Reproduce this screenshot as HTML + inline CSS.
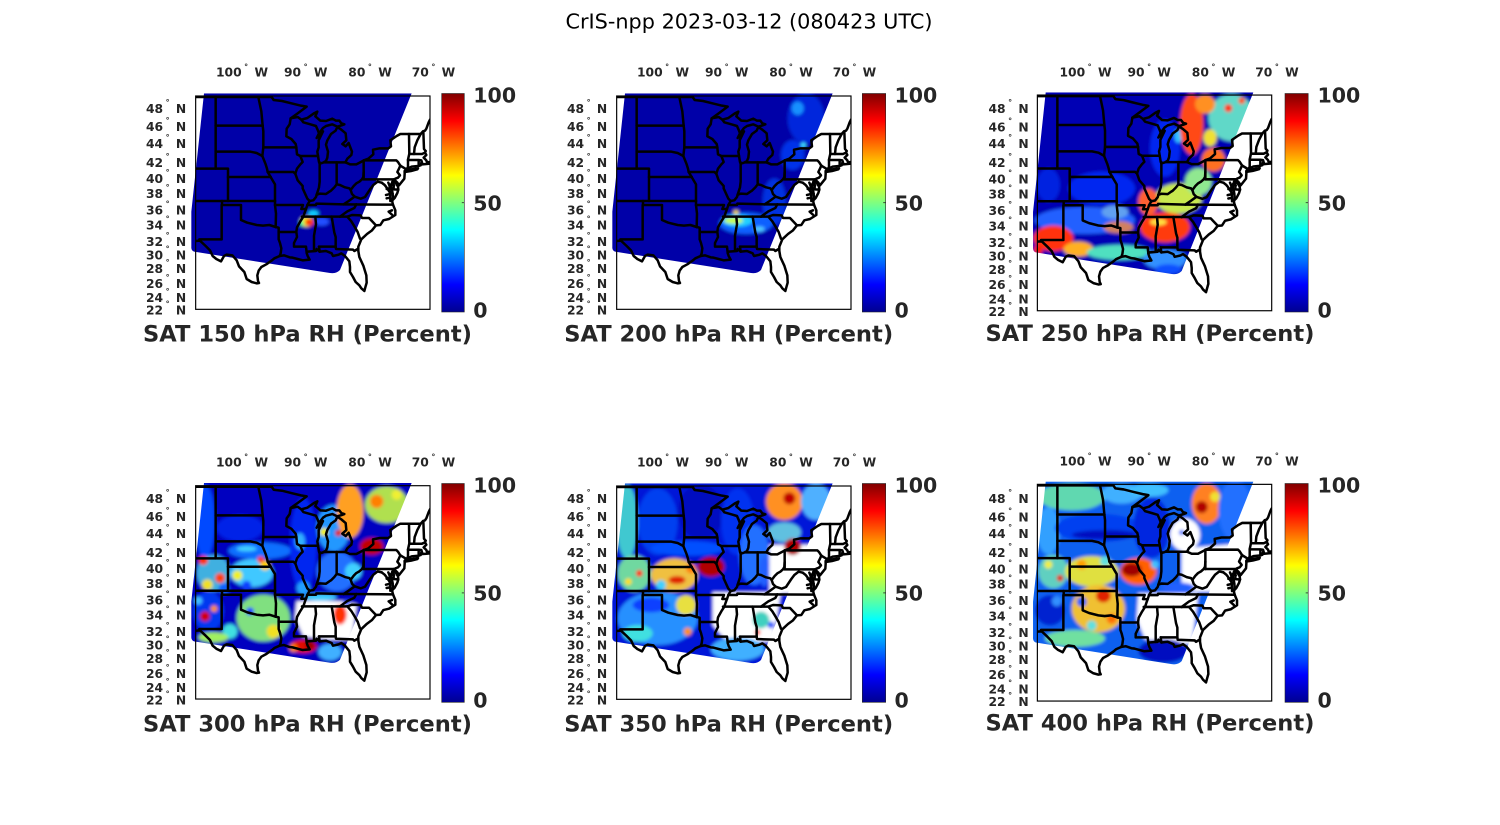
<!DOCTYPE html>
<html><head><meta charset="utf-8"><style>
html,body{margin:0;padding:0;background:#fff;width:1500px;height:825px;overflow:hidden}
.lt{font:bold 12.3px "DejaVu Sans","Liberation Sans",sans-serif;fill:#262626}
.cb{font:bold 20.5px "DejaVu Sans","Liberation Sans",sans-serif;fill:#262626}
.ti{font:bold 22.6px "DejaVu Sans","Liberation Sans",sans-serif;fill:#262626}
.mt{font:20.8px "DejaVu Sans","Liberation Sans",sans-serif;fill:#000}
</style></head><body>
<svg width="1500" height="825" viewBox="0 0 1500 825" xmlns="http://www.w3.org/2000/svg" xmlns:xlink="http://www.w3.org/1999/xlink">
<defs>
<linearGradient id="jet" x1="0" y1="1" x2="0" y2="0">
<stop offset="0" stop-color="#000090"/><stop offset="0.125" stop-color="#0000ff"/><stop offset="0.375" stop-color="#00ffff"/><stop offset="0.625" stop-color="#ffff00"/><stop offset="0.875" stop-color="#ff0000"/><stop offset="1" stop-color="#800000"/>
</linearGradient>
<clipPath id="box"><rect x="197" y="123" width="703" height="640"/></clipPath>
<clipPath id="sw"><path d="M222,115 L845,115 L630,645 Q618,657 600,654 L192,590 Q183,586 184,575 L184,470 Z"/></clipPath>
<filter id="bl" x="-10%" y="-10%" width="120%" height="120%"><feGaussianBlur stdDeviation="5"/></filter>
<g id="lines" fill="none" stroke="#000" stroke-width="7.5" stroke-linejoin="round" stroke-linecap="round">
<path d="M197,126 L425,126 L431,135 L456,138 L484,145 L513,152 L530,155 L503,175 L482,190 L503,186 L514,194 L532,189 L552,175 L562,170 L556,184 L571,197 L588,198 L607,191 L618,197 L628,197 L634,205 L643,208 L635,211 L622,215 L607,208 L588,213 L579,219 L567,235 L560,249 L569,240 L579,229 L566,256 L566,277 L562,290 L564,303 L567,321 L569,326 L579,323 L588,318 L592,308 L594,290 L588,269 L592,256 L603,237 L617,227 L622,216 L634,224 L647,235 L649,256 L637,267 L647,274 L656,264 L666,290 L664,300 L652,311 L646,322 L660,328 L679,328 L702,316 L715,311 L730,298 L729,284 L749,280 L775,280 L783,274 L781,256 L800,243 L811,237 L872,237 L879,229 L885,227 L889,221 L896,202 L900,194"/>
<path d="M880,229 L882,282 L887,288"/>
<path d="M887,288 L885,293 L889,300 L881,308 L889,316 L891,322 L900,321 L900,326 L889,327 L877,328 L874,323 L872,331 L864,333 L845,335 L832,341 L824,348 L824,356 L823,371 L807,391 L802,383 L795,376 L798,385 L804,395 L805,404 L802,414 L794,429 L787,436 L787,441 L789,449 L796,466 L796,480 L777,492 L760,496 L751,510 L738,511 L726,526 L711,537 L694,553 L685,575 L685,588 L688,606 L700,632 L709,661 L710,683 L706,697 L703,708 L694,700 L688,691 L677,681 L669,666 L660,651 L660,636 L658,619 L645,603 L634,595 L626,599 L609,603 L605,595 L588,588 L569,590 L560,582 L558,588 L533,590 L530,594 L533,603 L539,614 L518,616 L503,612 L488,608 L479,607 L462,601 L449,603 L433,610 L426,616 L409,628 L394,636 L386,647 L382,661 L384,678 L387,684 L380,685 L365,681 L350,672 L343,651 L327,634 L320,616 L307,601 L290,599 L282,603 L273,619 L259,612 L248,603 L240,586 L227,573 L210,557 L197,558"/>
<path d="M824,351 L843,348 L862,343 L864,340 L851,342 L832,345 Z"/>
<path d="M775,383 L779,393 L779,407 L781,424 L781,438"/>
<path d="M787,380 L783,395 L787,410 L789,426 L787,436"/>
<path d="M781,414 L788,416 M780,428 L770,430 M786,466 L776,470 L787,480 M779,400 L770,402 M783,388 L792,392 M776,418 L768,420"/>
<path d="M257,126 L257,341"/>
<path d="M197,341 L294,341 L294,438"/>
<path d="M294,366 L422,366"/>
<path d="M257,290 L361,290 L380,294 L397,303"/>
<path d="M257,212 L398,212"/>
<path d="M385,126 L394,169 L398,212"/>
<path d="M398,212 L400,229 L400,277 L397,303"/>
<path d="M397,303 L407,328 L411,341 L413,351 L422,366"/>
<path d="M422,366 L429,378 L435,388 L435,438"/>
<path d="M197,438 L435,438"/>
<path d="M276,438 L276,450 L333,450 L333,495 L352,503 L380,510 L399,512 L418,510 L437,516"/>
<path d="M275,450 L275,553 L208,553"/>
<path d="M437,516 L438,476 L435,450 L435,438"/>
<path d="M437,516 L446,518 L446,553 L450,564 L454,580 L452,595 L449,603"/>
<path d="M446,531 L499,531"/>
<path d="M435,450 L519,450 L514,462 L528,462 L532,450 L539,438"/>
<path d="M400,277 L499,277"/>
<path d="M413,351 L490,351 L496,356"/>
<path d="M482,190 L479,208 L470,221 L469,244 L484,252 L497,267 L499,277"/>
<path d="M499,277 L501,298 L511,303 L518,321 L511,328 L501,341 L496,356"/>
<path d="M511,303 L564,303"/>
<path d="M514,194 L520,202 L541,208 L558,213 L564,227 L567,235"/>
<path d="M496,356 L503,376 L518,393 L518,400 L532,431 L539,438"/>
<path d="M539,438 L550,436 L558,426 L560,419"/>
<path d="M569,322 L569,380 L567,397 L560,419"/>
<path d="M560,419 L569,416 L588,417 L598,410 L603,407 L613,397 L620,388"/>
<path d="M620,388 L620,322"/>
<path d="M583,322 L646,322"/>
<path d="M620,388 L630,390 L645,397 L658,400 L662,405 L671,393 L679,385 L688,380 L696,373 L700,366 L701,351"/>
<path d="M701,316 L701,373"/>
<path d="M701,316 L799,316 L804,321 L811,332"/>
<path d="M701,373 L791,373"/>
<path d="M811,332 L806,343 L802,351 L810,361 L804,368 L796,371"/>
<path d="M811,332 L826,341"/>
<path d="M837,237 L838,296 L834,314 L834,336 L831,341"/>
<path d="M872,237 L862,256 L854,277 L852,297"/>
<path d="M838,297 L876,297 L885,293"/>
<path d="M834,315 L866,315 L866,333 M866,315 L874,316 L877,326"/>
<path d="M532,450 L558,450 L559,446 L641,448 L789,449"/>
<path d="M641,448 L656,438 L674,425 L666,417 L662,405"/>
<path d="M674,425 L692,431 L705,426 L711,417 L721,402 L730,390 L743,380 L755,383"/>
<path d="M755,383 L764,390 L768,395 L781,414"/>
<path d="M791,373 L791,403 L805,404"/>
<path d="M630,485 L652,469 L673,459 L679,448"/>
<path d="M516,485 L630,485"/>
<path d="M528,462 L524,473 L520,485"/>
<path d="M630,485 L652,485 L666,480 L692,481 L696,489 L717,489 L738,511"/>
<path d="M652,485 L664,499 L675,517 L683,531 L690,551"/>
<path d="M605,485 L613,533 L617,546 L617,575"/>
<path d="M567,575 L617,575 L618,582 L669,584 L673,588 L683,582"/>
<path d="M556,485 L558,508 L552,542 L552,588"/>
<path d="M567,575 L569,590"/>
<path d="M520,485 L511,499 L501,517 L499,531 L501,546 L492,564 L492,575 L528,575 L530,593"/>
</g>
</defs>

<text class="mt" x="749" y="28.3" text-anchor="middle">CrIS-npp 2023-03-12 (080423 UTC)</text>

<!-- ===== Panel 1 map ===== -->
<g transform="translate(130,55) scale(0.33333)">
<g clip-path="url(#sw)"><g filter="url(#bl)">
<rect x="150" y="90" width="760" height="600" fill="#0000a8"/>
<ellipse cx="575" cy="500" rx="22" ry="12" fill="#2050ff"/>
<ellipse cx="550" cy="475" rx="16" ry="9" fill="#10d0ff"/>
<ellipse cx="530" cy="500" rx="20" ry="15" fill="#f0f020"/>
<ellipse cx="538" cy="502" rx="13" ry="11" fill="#ff3000"/>
<ellipse cx="515" cy="505" rx="6" ry="8" fill="#40ff90"/>
</g></g>
<g clip-path="url(#box)"><use xlink:href="#lines" href="#lines"/></g>
<rect x="197" y="123" width="703" height="640" fill="none" stroke="#000" stroke-width="3.5"/>
</g>

<!-- ===== Panel 2 map ===== -->
<g transform="translate(551,55) scale(0.33333)">
<g clip-path="url(#sw)"><g filter="url(#bl)">
<rect x="150" y="90" width="760" height="600" fill="#0000a8"/>
<ellipse cx="765" cy="190" rx="55" ry="75" fill="#0028dc"/>
<ellipse cx="740" cy="160" rx="18" ry="20" fill="#1890ff"/>
<ellipse cx="725" cy="300" rx="35" ry="45" fill="#0030e8"/>
<circle cx="757" cy="270" r="8" fill="#40e0ff"/>
<ellipse cx="670" cy="440" rx="35" ry="70" fill="#0030e0"/>
<ellipse cx="585" cy="505" rx="80" ry="32" fill="#1060ff"/>
<ellipse cx="560" cy="497" rx="45" ry="18" fill="#20d0ff"/>
<ellipse cx="548" cy="497" rx="28" ry="9" fill="#c8ff40"/>
<ellipse cx="555" cy="472" rx="8" ry="6" fill="#ffe000"/>
<ellipse cx="625" cy="522" rx="16" ry="8" fill="#50c8ff"/>
</g></g>
<g clip-path="url(#box)"><use xlink:href="#lines" href="#lines"/></g>
<rect x="197" y="123" width="703" height="640" fill="none" stroke="#000" stroke-width="3.5"/>
</g>

<!-- ===== Panel 3 map ===== -->
<g transform="translate(971.7,53.6) scale(0.33333,0.337)">
<g clip-path="url(#sw)"><g filter="url(#bl)">
<rect x="150" y="90" width="760" height="600" fill="#0000b4"/>
<ellipse cx="230" cy="390" rx="35" ry="50" fill="#0020e0"/>
<ellipse cx="390" cy="400" rx="100" ry="50" fill="#0028f0"/>
<ellipse cx="340" cy="495" rx="150" ry="40" fill="#2060ff"/>
<ellipse cx="430" cy="470" rx="40" ry="20" fill="#60a0f0"/>
<ellipse cx="245" cy="548" rx="60" ry="38" fill="#ff3010"/>
<circle cx="200" cy="582" r="14" fill="#ff2000"/>
<ellipse cx="320" cy="580" rx="45" ry="22" fill="#ffb020"/>
<ellipse cx="440" cy="590" rx="95" ry="22" fill="#50e0c0"/>
<ellipse cx="440" cy="515" rx="45" ry="18" fill="#d08060"/>
<ellipse cx="580" cy="515" rx="75" ry="45" fill="#ff3a10"/>
<ellipse cx="560" cy="500" rx="25" ry="10" fill="#ffe040"/>
<ellipse cx="620" cy="430" rx="70" ry="45" fill="#c8e850"/>
<ellipse cx="530" cy="440" rx="30" ry="40" fill="#ff6030"/>
<ellipse cx="580" cy="610" rx="65" ry="30" fill="#3090ff"/>
<ellipse cx="590" cy="640" rx="40" ry="15" fill="#1050ff"/>
<ellipse cx="580" cy="280" rx="45" ry="85" fill="#0028f0"/>
<ellipse cx="620" cy="245" rx="12" ry="20" fill="#30c0ff"/>
<ellipse cx="780" cy="190" rx="70" ry="70" fill="#60d8c8"/>
<ellipse cx="660" cy="210" rx="35" ry="90" fill="#ff4818"/>
<ellipse cx="700" cy="150" rx="30" ry="28" fill="#ff9020"/>
<ellipse cx="715" cy="250" rx="20" ry="25" fill="#f0e030"/>
<circle cx="770" cy="162" r="12" fill="#ff3000"/>
<circle cx="810" cy="140" r="10" fill="#ff5000"/>
<ellipse cx="725" cy="315" rx="35" ry="35" fill="#ff7020"/>
<ellipse cx="680" cy="380" rx="40" ry="40" fill="#90e890"/>
</g></g>
<g clip-path="url(#box)"><use xlink:href="#lines" href="#lines"/></g>
<rect x="197" y="123" width="703" height="640" fill="none" stroke="#000" stroke-width="3.5"/>
</g>

<!-- ===== Panel 4 map ===== -->
<g transform="translate(130,444.7) scale(0.33333)">
<g clip-path="url(#sw)"><g filter="url(#bl)">
<rect x="150" y="90" width="760" height="600" fill="#0000c0"/>
<ellipse cx="225" cy="230" rx="30" ry="110" fill="#0048ff"/>
<ellipse cx="330" cy="250" rx="70" ry="40" fill="#0020e8"/>
<ellipse cx="390" cy="318" rx="95" ry="25" fill="#1070ff"/>
<ellipse cx="350" cy="312" rx="30" ry="8" fill="#40d0ff"/>
<ellipse cx="250" cy="385" rx="50" ry="55" fill="#40b0e0"/>
<circle cx="220" cy="347" r="14" fill="#ff3000"/>
<circle cx="270" cy="400" r="15" fill="#ff4000"/>
<circle cx="232" cy="420" r="16" fill="#f0e020"/>
<circle cx="282" cy="432" r="16" fill="#1060ff"/>
<ellipse cx="235" cy="500" rx="45" ry="60" fill="#0038f0"/>
<circle cx="225" cy="515" r="15" fill="#d00000"/>
<circle cx="252" cy="492" r="10" fill="#ff9000"/>
<circle cx="205" cy="468" r="12" fill="#40c0ff"/>
<ellipse cx="365" cy="385" rx="65" ry="42" fill="#40c8ff"/>
<circle cx="322" cy="392" r="15" fill="#f0f020"/>
<circle cx="405" cy="362" r="15" fill="#ffd000"/>
<circle cx="350" cy="422" r="14" fill="#1040ff"/>
<circle cx="392" cy="345" r="10" fill="#ff3000"/>
<ellipse cx="400" cy="520" rx="80" ry="70" fill="#80e080"/>
<circle cx="360" cy="500" r="12" fill="#2040ff"/>
<circle cx="430" cy="560" r="20" fill="#f0e020"/>
<circle cx="300" cy="560" r="22" fill="#40e0e0"/>
<ellipse cx="250" cy="578" rx="45" ry="15" fill="#a0f060"/>
<ellipse cx="520" cy="300" rx="40" ry="140" fill="#0028f0"/>
<ellipse cx="510" cy="290" rx="15" ry="25" fill="#30b0ff"/>
<circle cx="520" cy="430" r="20" fill="#20a0ff"/>
<ellipse cx="610" cy="250" rx="50" ry="70" fill="#2098ff"/>
<circle cx="582" cy="262" r="12" fill="#f0f000"/>
<circle cx="625" cy="265" r="10" fill="#e02000"/>
<ellipse cx="660" cy="200" rx="40" ry="80" fill="#ffa020"/>
<ellipse cx="770" cy="180" rx="65" ry="55" fill="#b0e050"/>
<circle cx="740" cy="170" r="20" fill="#ff8000"/>
<circle cx="800" cy="150" r="15" fill="#f0f030"/>
<ellipse cx="620" cy="380" rx="60" ry="60" fill="#2070ff"/>
<circle cx="670" cy="380" r="25" fill="#40d0ff"/>
<ellipse cx="725" cy="305" rx="35" ry="25" fill="#c00000"/>
<path d="M500,470 L560,468 L640,470 L680,480 L665,585 L600,585 L520,575 L495,520 Z" fill="#fff"/>
<ellipse cx="630" cy="510" rx="20" ry="30" fill="#ff3000"/>
<ellipse cx="570" cy="458" rx="50" ry="10" fill="#40d0ff"/>
<circle cx="650" cy="475" r="10" fill="#2050ff"/>
<ellipse cx="520" cy="605" rx="40" ry="20" fill="#e01000"/>
<circle cx="540" cy="600" r="15" fill="#a00000"/>
<ellipse cx="600" cy="622" rx="35" ry="25" fill="#40b0ff"/>
<circle cx="490" cy="610" r="12" fill="#ff8000"/>
</g></g>
<g clip-path="url(#box)"><use xlink:href="#lines" href="#lines"/></g>
<rect x="197" y="123" width="703" height="640" fill="none" stroke="#000" stroke-width="3.5"/>
</g>

<!-- ===== Panel 5 map ===== -->
<g transform="translate(551,445) scale(0.33333)">
<g clip-path="url(#sw)"><g filter="url(#bl)">
<rect x="150" y="90" width="760" height="600" fill="#0018d8"/>
<ellipse cx="228" cy="230" rx="32" ry="110" fill="#40c8d0"/>
<ellipse cx="320" cy="230" rx="60" ry="100" fill="#0040f0"/>
<ellipse cx="450" cy="200" rx="70" ry="80" fill="#0010c0"/>
<ellipse cx="410" cy="310" rx="110" ry="22" fill="#0050ff"/>
<ellipse cx="250" cy="385" rx="50" ry="55" fill="#70d8a0"/>
<circle cx="265" cy="385" r="10" fill="#ff2000"/>
<circle cx="232" cy="410" r="10" fill="#ffe000"/>
<ellipse cx="370" cy="390" rx="70" ry="50" fill="#f0c040"/>
<ellipse cx="378" cy="405" rx="25" ry="12" fill="#e02000"/>
<circle cx="330" cy="420" r="15" fill="#40d0ff"/>
<circle cx="420" cy="370" r="15" fill="#ff8000"/>
<ellipse cx="480" cy="365" rx="40" ry="30" fill="#b00000"/>
<ellipse cx="320" cy="520" rx="120" ry="80" fill="#2890ff"/>
<ellipse cx="300" cy="480" rx="55" ry="22" fill="#1040ff"/>
<ellipse cx="260" cy="565" rx="45" ry="25" fill="#40e0e0"/>
<ellipse cx="405" cy="480" rx="30" ry="30" fill="#e8e040"/>
<circle cx="410" cy="560" r="12" fill="#ff9000"/>
<ellipse cx="560" cy="230" rx="50" ry="100" fill="#0030f0"/>
<ellipse cx="610" cy="330" rx="45" ry="90" fill="#2070ff"/>
<ellipse cx="700" cy="170" rx="55" ry="55" fill="#ff9020"/>
<circle cx="715" cy="160" r="18" fill="#c00000"/>
<ellipse cx="795" cy="170" rx="45" ry="55" fill="#50b0ff"/>
<ellipse cx="700" cy="262" rx="50" ry="30" fill="#60c0e0"/>
<path d="M655,300 L790,300 L730,445 L655,445 Z" fill="#fff"/>
<ellipse cx="725" cy="305" rx="25" ry="25" fill="#b00000"/>
<ellipse cx="640" cy="380" rx="15" ry="45" fill="#2060ff"/>
<path d="M485,442 L690,442 L665,590 L600,590 L520,580 L485,540 Z" fill="#fff"/>
<ellipse cx="630" cy="525" rx="25" ry="25" fill="#40d0c0"/>
<circle cx="620" cy="562" r="8" fill="#ff2000"/>
<circle cx="660" cy="540" r="10" fill="#2050ff"/>
<ellipse cx="560" cy="612" rx="80" ry="35" fill="#40b0ff"/>
</g></g>
<g clip-path="url(#box)"><use xlink:href="#lines" href="#lines"/></g>
<rect x="197" y="123" width="703" height="640" fill="none" stroke="#000" stroke-width="3.5"/>
</g>

<!-- ===== Panel 6 map ===== -->
<g transform="translate(971.7,442.7) scale(0.33333,0.3386)">
<g clip-path="url(#sw)"><g filter="url(#bl)">
<rect x="150" y="90" width="760" height="600" fill="#1060f0"/>
<ellipse cx="300" cy="160" rx="100" ry="40" fill="#60d8b0"/>
<ellipse cx="230" cy="260" rx="35" ry="70" fill="#30a0ff"/>
<ellipse cx="380" cy="252" rx="130" ry="42" fill="#0040f0"/>
<ellipse cx="400" cy="272" rx="100" ry="14" fill="#0010c0"/>
<ellipse cx="450" cy="150" rx="60" ry="30" fill="#40b0ff"/>
<ellipse cx="245" cy="380" rx="45" ry="50" fill="#60d0c0"/>
<circle cx="265" cy="400" r="10" fill="#e02000"/>
<circle cx="230" cy="360" r="12" fill="#f0f040"/>
<ellipse cx="235" cy="495" rx="45" ry="45" fill="#0020d0"/>
<circle cx="255" cy="468" r="15" fill="#3090ff"/>
<ellipse cx="360" cy="380" rx="80" ry="45" fill="#e0e040"/>
<circle cx="330" cy="360" r="15" fill="#ffa000"/>
<circle cx="400" cy="350" r="15" fill="#60e0e0"/>
<ellipse cx="380" cy="490" rx="80" ry="70" fill="#f0c030"/>
<ellipse cx="395" cy="452" rx="22" ry="20" fill="#e02000"/>
<circle cx="420" cy="520" r="15" fill="#ff7000"/>
<circle cx="330" cy="470" r="15" fill="#2060ff"/>
<circle cx="360" cy="540" r="15" fill="#60e0e0"/>
<ellipse cx="500" cy="380" rx="55" ry="40" fill="#ff6000"/>
<ellipse cx="480" cy="375" rx="30" ry="20" fill="#a00000"/>
<circle cx="550" cy="360" r="12" fill="#40c0ff"/>
<ellipse cx="310" cy="578" rx="90" ry="25" fill="#70e0a0"/>
<ellipse cx="540" cy="250" rx="55" ry="90" fill="#0028e0"/>
<ellipse cx="530" cy="140" rx="60" ry="20" fill="#40c0ff"/>
<ellipse cx="705" cy="180" rx="45" ry="60" fill="#ff8020"/>
<circle cx="690" cy="190" r="18" fill="#b00000"/>
<circle cx="730" cy="160" r="15" fill="#f0e030"/>
<ellipse cx="790" cy="200" rx="50" ry="90" fill="#2070ff"/>
<ellipse cx="640" cy="272" rx="45" ry="48" fill="#fff"/>
<circle cx="630" cy="265" r="8" fill="#2060ff"/>
<path d="M630,312 L790,300 L760,380 L730,440 L630,440 Z" fill="#fff"/>
<ellipse cx="620" cy="428" rx="50" ry="15" fill="#2060ff"/>
<path d="M500,445 L680,445 L660,595 L600,590 L520,580 L495,520 Z" fill="#fff"/>
<ellipse cx="575" cy="615" rx="75" ry="35" fill="#0010c0"/>
</g></g>
<g clip-path="url(#box)"><use xlink:href="#lines" href="#lines"/></g>
<rect x="197" y="123" width="703" height="640" fill="none" stroke="#000" stroke-width="3.5"/>
</g>

<!-- ===== Panel 1 labels/colorbar ===== -->
<g>
<rect x="441.7" y="93.5" width="22.6" height="218.5" fill="url(#jet)" stroke="#262626" stroke-width="0.6"/>
<line x1="461.8" y1="202.7" x2="464.3" y2="202.7" stroke="#262626" stroke-width="0.8"/>
<text class="cb" x="473.3" y="102.5">100</text><text class="cb" x="473.3" y="210.5">50</text><text class="cb" x="473.3" y="317.5">0</text>
<text class="ti" x="307.5" y="341.7" text-anchor="middle">SAT 150 hPa RH (Percent)</text>
<g class="lt">
<text x="216" y="76.7">100<tspan dx="2.5" dy="-7" font-size="8">°</tspan><tspan dx="2" dy="7"> W</tspan></text>
<text x="284" y="76.7">90<tspan dx="2.5" dy="-7" font-size="8">°</tspan><tspan dx="2" dy="7"> W</tspan></text>
<text x="348.3" y="76.7">80<tspan dx="2.5" dy="-7" font-size="8">°</tspan><tspan dx="2" dy="7"> W</tspan></text>
<text x="411.7" y="76.7">70<tspan dx="2.5" dy="-7" font-size="8">°</tspan><tspan dx="2" dy="7"> W</tspan></text>
<text x="146" y="112.8">48<tspan dx="2.5" dy="-8" font-size="8">°</tspan><tspan dx="2" dy="8"> N</tspan></text>
<text x="146" y="131.2">46<tspan dx="2.5" dy="-8" font-size="8">°</tspan><tspan dx="2" dy="8"> N</tspan></text>
<text x="146" y="147.8">44<tspan dx="2.5" dy="-8" font-size="8">°</tspan><tspan dx="2" dy="8"> N</tspan></text>
<text x="146" y="166.8">42<tspan dx="2.5" dy="-8" font-size="8">°</tspan><tspan dx="2" dy="8"> N</tspan></text>
<text x="146" y="182.8">40<tspan dx="2.5" dy="-8" font-size="8">°</tspan><tspan dx="2" dy="8"> N</tspan></text>
<text x="146" y="197.8">38<tspan dx="2.5" dy="-8" font-size="8">°</tspan><tspan dx="2" dy="8"> N</tspan></text>
<text x="146" y="214.5">36<tspan dx="2.5" dy="-8" font-size="8">°</tspan><tspan dx="2" dy="8"> N</tspan></text>
<text x="146" y="229.5">34<tspan dx="2.5" dy="-8" font-size="8">°</tspan><tspan dx="2" dy="8"> N</tspan></text>
<text x="146" y="246.2">32<tspan dx="2.5" dy="-8" font-size="8">°</tspan><tspan dx="2" dy="8"> N</tspan></text>
<text x="146" y="259.5">30<tspan dx="2.5" dy="-8" font-size="8">°</tspan><tspan dx="2" dy="8"> N</tspan></text>
<text x="146" y="272.8">28<tspan dx="2.5" dy="-8" font-size="8">°</tspan><tspan dx="2" dy="8"> N</tspan></text>
<text x="146" y="287.8">26<tspan dx="2.5" dy="-8" font-size="8">°</tspan><tspan dx="2" dy="8"> N</tspan></text>
<text x="146" y="302.2">24<tspan dx="2.5" dy="-8" font-size="8">°</tspan><tspan dx="2" dy="8"> N</tspan></text>
<text x="146" y="314.5">22<tspan dx="2.5" dy="-8" font-size="8">°</tspan><tspan dx="2" dy="8"> N</tspan></text>
</g>
</g>

<!-- ===== Panel 2 labels/colorbar ===== -->
<g transform="translate(421,0)">
<rect x="441.3" y="93.5" width="23.4" height="218.5" fill="url(#jet)" stroke="#262626" stroke-width="0.6"/>
<line x1="462.2" y1="202.7" x2="464.7" y2="202.7" stroke="#262626" stroke-width="0.8"/>
<text class="cb" x="473.5" y="102.5">100</text><text class="cb" x="473.5" y="210.5">50</text><text class="cb" x="473.5" y="317.5">0</text>
<text class="ti" x="307.7" y="341.7" text-anchor="middle">SAT 200 hPa RH (Percent)</text>
<g class="lt">
<text x="216" y="76.7">100<tspan dx="2.5" dy="-7" font-size="8">°</tspan><tspan dx="2" dy="7"> W</tspan></text>
<text x="284" y="76.7">90<tspan dx="2.5" dy="-7" font-size="8">°</tspan><tspan dx="2" dy="7"> W</tspan></text>
<text x="348.3" y="76.7">80<tspan dx="2.5" dy="-7" font-size="8">°</tspan><tspan dx="2" dy="7"> W</tspan></text>
<text x="411.7" y="76.7">70<tspan dx="2.5" dy="-7" font-size="8">°</tspan><tspan dx="2" dy="7"> W</tspan></text>
<text x="146" y="112.8">48<tspan dx="2.5" dy="-8" font-size="8">°</tspan><tspan dx="2" dy="8"> N</tspan></text>
<text x="146" y="131.2">46<tspan dx="2.5" dy="-8" font-size="8">°</tspan><tspan dx="2" dy="8"> N</tspan></text>
<text x="146" y="147.8">44<tspan dx="2.5" dy="-8" font-size="8">°</tspan><tspan dx="2" dy="8"> N</tspan></text>
<text x="146" y="166.8">42<tspan dx="2.5" dy="-8" font-size="8">°</tspan><tspan dx="2" dy="8"> N</tspan></text>
<text x="146" y="182.8">40<tspan dx="2.5" dy="-8" font-size="8">°</tspan><tspan dx="2" dy="8"> N</tspan></text>
<text x="146" y="197.8">38<tspan dx="2.5" dy="-8" font-size="8">°</tspan><tspan dx="2" dy="8"> N</tspan></text>
<text x="146" y="214.5">36<tspan dx="2.5" dy="-8" font-size="8">°</tspan><tspan dx="2" dy="8"> N</tspan></text>
<text x="146" y="229.5">34<tspan dx="2.5" dy="-8" font-size="8">°</tspan><tspan dx="2" dy="8"> N</tspan></text>
<text x="146" y="246.2">32<tspan dx="2.5" dy="-8" font-size="8">°</tspan><tspan dx="2" dy="8"> N</tspan></text>
<text x="146" y="259.5">30<tspan dx="2.5" dy="-8" font-size="8">°</tspan><tspan dx="2" dy="8"> N</tspan></text>
<text x="146" y="272.8">28<tspan dx="2.5" dy="-8" font-size="8">°</tspan><tspan dx="2" dy="8"> N</tspan></text>
<text x="146" y="287.8">26<tspan dx="2.5" dy="-8" font-size="8">°</tspan><tspan dx="2" dy="8"> N</tspan></text>
<text x="146" y="302.2">24<tspan dx="2.5" dy="-8" font-size="8">°</tspan><tspan dx="2" dy="8"> N</tspan></text>
<text x="146" y="314.5">22<tspan dx="2.5" dy="-8" font-size="8">°</tspan><tspan dx="2" dy="8"> N</tspan></text>
</g>
</g>

<!-- ===== Panel 3 labels/colorbar ===== -->
<g transform="translate(843,0)">
<rect x="442" y="93.5" width="23.2" height="218.5" fill="url(#jet)" stroke="#262626" stroke-width="0.6"/>
<line x1="462.7" y1="202.7" x2="465.2" y2="202.7" stroke="#262626" stroke-width="0.8"/>
<text class="cb" x="474.5" y="102.5">100</text><text class="cb" x="474.5" y="210.5">50</text><text class="cb" x="474.5" y="317.5">0</text>
<text class="ti" x="307" y="341" text-anchor="middle">SAT 250 hPa RH (Percent)</text>
<g class="lt">
<text x="216.5" y="76.7">100<tspan dx="2.5" dy="-7" font-size="8">°</tspan><tspan dx="2" dy="7"> W</tspan></text>
<text x="284.5" y="76.7">90<tspan dx="2.5" dy="-7" font-size="8">°</tspan><tspan dx="2" dy="7"> W</tspan></text>
<text x="348.8" y="76.7">80<tspan dx="2.5" dy="-7" font-size="8">°</tspan><tspan dx="2" dy="7"> W</tspan></text>
<text x="412.2" y="76.7">70<tspan dx="2.5" dy="-7" font-size="8">°</tspan><tspan dx="2" dy="7"> W</tspan></text>
<text x="145.5" y="112.8">48<tspan dx="2.5" dy="-8" font-size="8">°</tspan><tspan dx="2" dy="8"> N</tspan></text>
<text x="145.5" y="131.4">46<tspan dx="2.5" dy="-8" font-size="8">°</tspan><tspan dx="2" dy="8"> N</tspan></text>
<text x="145.5" y="148.1">44<tspan dx="2.5" dy="-8" font-size="8">°</tspan><tspan dx="2" dy="8"> N</tspan></text>
<text x="145.5" y="167.2">42<tspan dx="2.5" dy="-8" font-size="8">°</tspan><tspan dx="2" dy="8"> N</tspan></text>
<text x="145.5" y="183.3">40<tspan dx="2.5" dy="-8" font-size="8">°</tspan><tspan dx="2" dy="8"> N</tspan></text>
<text x="145.5" y="198.4">38<tspan dx="2.5" dy="-8" font-size="8">°</tspan><tspan dx="2" dy="8"> N</tspan></text>
<text x="145.5" y="215.2">36<tspan dx="2.5" dy="-8" font-size="8">°</tspan><tspan dx="2" dy="8"> N</tspan></text>
<text x="145.5" y="230.3">34<tspan dx="2.5" dy="-8" font-size="8">°</tspan><tspan dx="2" dy="8"> N</tspan></text>
<text x="145.5" y="247.1">32<tspan dx="2.5" dy="-8" font-size="8">°</tspan><tspan dx="2" dy="8"> N</tspan></text>
<text x="145.5" y="260.5">30<tspan dx="2.5" dy="-8" font-size="8">°</tspan><tspan dx="2" dy="8"> N</tspan></text>
<text x="145.5" y="274">28<tspan dx="2.5" dy="-8" font-size="8">°</tspan><tspan dx="2" dy="8"> N</tspan></text>
<text x="145.5" y="289.1">26<tspan dx="2.5" dy="-8" font-size="8">°</tspan><tspan dx="2" dy="8"> N</tspan></text>
<text x="145.5" y="303.7">24<tspan dx="2.5" dy="-8" font-size="8">°</tspan><tspan dx="2" dy="8"> N</tspan></text>
<text x="145.5" y="316.2">22<tspan dx="2.5" dy="-8" font-size="8">°</tspan><tspan dx="2" dy="8"> N</tspan></text>
</g>
</g>

<!-- ===== Panel 4 labels/colorbar ===== -->
<g transform="translate(0,390)">
<rect x="441.7" y="93.5" width="22.6" height="218.8" fill="url(#jet)" stroke="#262626" stroke-width="0.6"/>
<line x1="461.8" y1="202.9" x2="464.3" y2="202.9" stroke="#262626" stroke-width="0.8"/>
<text class="cb" x="473.3" y="102.5">100</text><text class="cb" x="473.3" y="210.5">50</text><text class="cb" x="473.3" y="317.5">0</text>
<text class="ti" x="307.5" y="341.7" text-anchor="middle">SAT 300 hPa RH (Percent)</text>
<g class="lt">
<text x="216" y="76.7">100<tspan dx="2.5" dy="-7" font-size="8">°</tspan><tspan dx="2" dy="7"> W</tspan></text>
<text x="284" y="76.7">90<tspan dx="2.5" dy="-7" font-size="8">°</tspan><tspan dx="2" dy="7"> W</tspan></text>
<text x="348.3" y="76.7">80<tspan dx="2.5" dy="-7" font-size="8">°</tspan><tspan dx="2" dy="7"> W</tspan></text>
<text x="411.7" y="76.7">70<tspan dx="2.5" dy="-7" font-size="8">°</tspan><tspan dx="2" dy="7"> W</tspan></text>
<text x="146" y="112.8">48<tspan dx="2.5" dy="-8" font-size="8">°</tspan><tspan dx="2" dy="8"> N</tspan></text>
<text x="146" y="131.2">46<tspan dx="2.5" dy="-8" font-size="8">°</tspan><tspan dx="2" dy="8"> N</tspan></text>
<text x="146" y="147.8">44<tspan dx="2.5" dy="-8" font-size="8">°</tspan><tspan dx="2" dy="8"> N</tspan></text>
<text x="146" y="166.8">42<tspan dx="2.5" dy="-8" font-size="8">°</tspan><tspan dx="2" dy="8"> N</tspan></text>
<text x="146" y="182.8">40<tspan dx="2.5" dy="-8" font-size="8">°</tspan><tspan dx="2" dy="8"> N</tspan></text>
<text x="146" y="197.8">38<tspan dx="2.5" dy="-8" font-size="8">°</tspan><tspan dx="2" dy="8"> N</tspan></text>
<text x="146" y="214.5">36<tspan dx="2.5" dy="-8" font-size="8">°</tspan><tspan dx="2" dy="8"> N</tspan></text>
<text x="146" y="229.5">34<tspan dx="2.5" dy="-8" font-size="8">°</tspan><tspan dx="2" dy="8"> N</tspan></text>
<text x="146" y="246.2">32<tspan dx="2.5" dy="-8" font-size="8">°</tspan><tspan dx="2" dy="8"> N</tspan></text>
<text x="146" y="259.5">30<tspan dx="2.5" dy="-8" font-size="8">°</tspan><tspan dx="2" dy="8"> N</tspan></text>
<text x="146" y="272.8">28<tspan dx="2.5" dy="-8" font-size="8">°</tspan><tspan dx="2" dy="8"> N</tspan></text>
<text x="146" y="287.8">26<tspan dx="2.5" dy="-8" font-size="8">°</tspan><tspan dx="2" dy="8"> N</tspan></text>
<text x="146" y="302.2">24<tspan dx="2.5" dy="-8" font-size="8">°</tspan><tspan dx="2" dy="8"> N</tspan></text>
<text x="146" y="314.5">22<tspan dx="2.5" dy="-8" font-size="8">°</tspan><tspan dx="2" dy="8"> N</tspan></text>
</g>
</g>

<!-- ===== Panel 5 labels/colorbar ===== -->
<g transform="translate(421,390)">
<rect x="441.3" y="93.5" width="23.4" height="218.8" fill="url(#jet)" stroke="#262626" stroke-width="0.6"/>
<line x1="462.2" y1="202.9" x2="464.7" y2="202.9" stroke="#262626" stroke-width="0.8"/>
<text class="cb" x="473.5" y="102.5">100</text><text class="cb" x="473.5" y="210.5">50</text><text class="cb" x="473.5" y="317.5">0</text>
<text class="ti" x="307.7" y="341.7" text-anchor="middle">SAT 350 hPa RH (Percent)</text>
<g class="lt">
<text x="216" y="76.7">100<tspan dx="2.5" dy="-7" font-size="8">°</tspan><tspan dx="2" dy="7"> W</tspan></text>
<text x="284" y="76.7">90<tspan dx="2.5" dy="-7" font-size="8">°</tspan><tspan dx="2" dy="7"> W</tspan></text>
<text x="348.3" y="76.7">80<tspan dx="2.5" dy="-7" font-size="8">°</tspan><tspan dx="2" dy="7"> W</tspan></text>
<text x="411.7" y="76.7">70<tspan dx="2.5" dy="-7" font-size="8">°</tspan><tspan dx="2" dy="7"> W</tspan></text>
<text x="146" y="112.8">48<tspan dx="2.5" dy="-8" font-size="8">°</tspan><tspan dx="2" dy="8"> N</tspan></text>
<text x="146" y="131.2">46<tspan dx="2.5" dy="-8" font-size="8">°</tspan><tspan dx="2" dy="8"> N</tspan></text>
<text x="146" y="147.8">44<tspan dx="2.5" dy="-8" font-size="8">°</tspan><tspan dx="2" dy="8"> N</tspan></text>
<text x="146" y="166.8">42<tspan dx="2.5" dy="-8" font-size="8">°</tspan><tspan dx="2" dy="8"> N</tspan></text>
<text x="146" y="182.8">40<tspan dx="2.5" dy="-8" font-size="8">°</tspan><tspan dx="2" dy="8"> N</tspan></text>
<text x="146" y="197.8">38<tspan dx="2.5" dy="-8" font-size="8">°</tspan><tspan dx="2" dy="8"> N</tspan></text>
<text x="146" y="214.5">36<tspan dx="2.5" dy="-8" font-size="8">°</tspan><tspan dx="2" dy="8"> N</tspan></text>
<text x="146" y="229.5">34<tspan dx="2.5" dy="-8" font-size="8">°</tspan><tspan dx="2" dy="8"> N</tspan></text>
<text x="146" y="246.2">32<tspan dx="2.5" dy="-8" font-size="8">°</tspan><tspan dx="2" dy="8"> N</tspan></text>
<text x="146" y="259.5">30<tspan dx="2.5" dy="-8" font-size="8">°</tspan><tspan dx="2" dy="8"> N</tspan></text>
<text x="146" y="272.8">28<tspan dx="2.5" dy="-8" font-size="8">°</tspan><tspan dx="2" dy="8"> N</tspan></text>
<text x="146" y="287.8">26<tspan dx="2.5" dy="-8" font-size="8">°</tspan><tspan dx="2" dy="8"> N</tspan></text>
<text x="146" y="302.2">24<tspan dx="2.5" dy="-8" font-size="8">°</tspan><tspan dx="2" dy="8"> N</tspan></text>
<text x="146" y="314.5">22<tspan dx="2.5" dy="-8" font-size="8">°</tspan><tspan dx="2" dy="8"> N</tspan></text>
</g>
</g>

<!-- ===== Panel 6 labels/colorbar ===== -->
<g transform="translate(843,390)">
<rect x="442" y="93.5" width="23.2" height="218.8" fill="url(#jet)" stroke="#262626" stroke-width="0.6"/>
<line x1="462.7" y1="202.9" x2="465.2" y2="202.9" stroke="#262626" stroke-width="0.8"/>
<text class="cb" x="474.5" y="102.5">100</text><text class="cb" x="474.5" y="210.5">50</text><text class="cb" x="474.5" y="317.5">0</text>
<text class="ti" x="307" y="340.5" text-anchor="middle">SAT 400 hPa RH (Percent)</text>
<g class="lt">
<text x="216.5" y="75.5">100<tspan dx="2.5" dy="-7" font-size="8">°</tspan><tspan dx="2" dy="7"> W</tspan></text>
<text x="284.5" y="75.5">90<tspan dx="2.5" dy="-7" font-size="8">°</tspan><tspan dx="2" dy="7"> W</tspan></text>
<text x="348.8" y="75.5">80<tspan dx="2.5" dy="-7" font-size="8">°</tspan><tspan dx="2" dy="7"> W</tspan></text>
<text x="412.2" y="75.5">70<tspan dx="2.5" dy="-7" font-size="8">°</tspan><tspan dx="2" dy="7"> W</tspan></text>
<text x="145.5" y="112.8">48<tspan dx="2.5" dy="-8" font-size="8">°</tspan><tspan dx="2" dy="8"> N</tspan></text>
<text x="145.5" y="131.4">46<tspan dx="2.5" dy="-8" font-size="8">°</tspan><tspan dx="2" dy="8"> N</tspan></text>
<text x="145.5" y="148.1">44<tspan dx="2.5" dy="-8" font-size="8">°</tspan><tspan dx="2" dy="8"> N</tspan></text>
<text x="145.5" y="167.2">42<tspan dx="2.5" dy="-8" font-size="8">°</tspan><tspan dx="2" dy="8"> N</tspan></text>
<text x="145.5" y="183.3">40<tspan dx="2.5" dy="-8" font-size="8">°</tspan><tspan dx="2" dy="8"> N</tspan></text>
<text x="145.5" y="198.4">38<tspan dx="2.5" dy="-8" font-size="8">°</tspan><tspan dx="2" dy="8"> N</tspan></text>
<text x="145.5" y="215.2">36<tspan dx="2.5" dy="-8" font-size="8">°</tspan><tspan dx="2" dy="8"> N</tspan></text>
<text x="145.5" y="230.3">34<tspan dx="2.5" dy="-8" font-size="8">°</tspan><tspan dx="2" dy="8"> N</tspan></text>
<text x="145.5" y="247.1">32<tspan dx="2.5" dy="-8" font-size="8">°</tspan><tspan dx="2" dy="8"> N</tspan></text>
<text x="145.5" y="260.5">30<tspan dx="2.5" dy="-8" font-size="8">°</tspan><tspan dx="2" dy="8"> N</tspan></text>
<text x="145.5" y="274">28<tspan dx="2.5" dy="-8" font-size="8">°</tspan><tspan dx="2" dy="8"> N</tspan></text>
<text x="145.5" y="289.1">26<tspan dx="2.5" dy="-8" font-size="8">°</tspan><tspan dx="2" dy="8"> N</tspan></text>
<text x="145.5" y="303.7">24<tspan dx="2.5" dy="-8" font-size="8">°</tspan><tspan dx="2" dy="8"> N</tspan></text>
<text x="145.5" y="316.2">22<tspan dx="2.5" dy="-8" font-size="8">°</tspan><tspan dx="2" dy="8"> N</tspan></text>
</g>
</g>
</svg>
</body></html>
